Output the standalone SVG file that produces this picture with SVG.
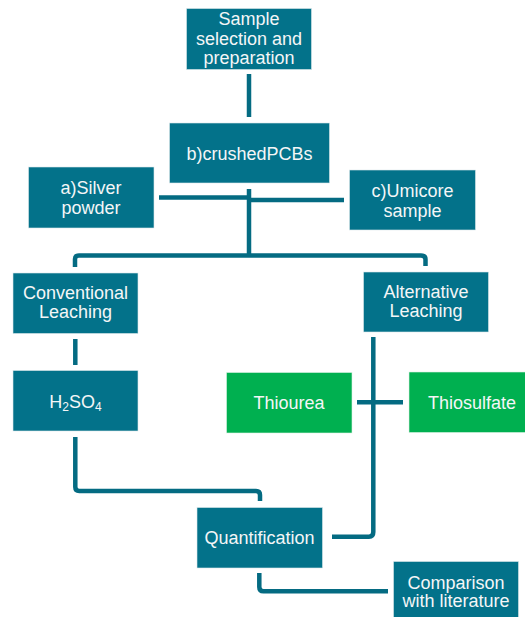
<svg xmlns="http://www.w3.org/2000/svg" width="525" height="617" viewBox="0 0 525 617">
<style>
.box{fill:#03728A;stroke:#DDE8EC;stroke-width:0.6}
.green{fill:#00B050;stroke:#DDF2E4;stroke-width:0.6}
.t{font-family:"Liberation Sans",Arial,sans-serif;font-size:18px;fill:#F4F6F7;text-anchor:middle}
.c{fill:none;stroke:#046B82;stroke-width:4.5;stroke-linejoin:round}
</style>
<rect width="525" height="617" fill="#FFFFFF"/>
<g id="connectors">
<path class="c" d="M249 74V117"/>
<path class="c" d="M159 197.5H249"/>
<path class="c" d="M249 200H344"/>
<path class="c" d="M249 189V255.5"/>
<path class="c" d="M75 267V259Q75 255.5 79 255.5H421Q425.5 255.5 425.5 259.5V266"/>
<path class="c" d="M75.3 339V365"/>
<path class="c" d="M75.3 437V487Q75.3 491 79.3 491H256Q260 491 260 495V501"/>
<path class="c" d="M373.3 337V532Q373.3 536.7 369 536.7H332"/>
<path class="c" d="M357 402.3H403"/>
<path class="c" d="M259.3 573V587Q259.3 591.3 263.5 591.3H388"/>
</g>
<g id="n-sample">
<rect class="box" x="186.5" y="8.5" width="125" height="61"/>
<text class="t" x="249" y="25">Sample</text>
<text class="t" x="249" y="45">selection and</text>
<text class="t" x="249" y="64">preparation</text>
</g>
<g id="n-crushed">
<rect class="box" x="169.5" y="123" width="160" height="60"/>
<text class="t" x="249.5" y="159.5">b)crushedPCBs</text>
</g>
<g id="n-silver">
<rect class="box" x="28.5" y="167" width="125.5" height="61"/>
<text class="t" x="91" y="194">a)Silver</text>
<text class="t" x="91" y="213.5">powder</text>
</g>
<g id="n-umicore">
<rect class="box" x="349.5" y="170" width="126" height="60"/>
<text class="t" x="412.5" y="197">c)Umicore</text>
<text class="t" x="412.5" y="216.5">sample</text>
</g>
<g id="n-conventional">
<rect class="box" x="13" y="273" width="125" height="60.5"/>
<text class="t" x="75.5" y="299">Conventional</text>
<text class="t" x="75.5" y="318">Leaching</text>
</g>
<g id="n-alternative">
<rect class="box" x="363.5" y="272" width="125" height="60"/>
<text class="t" x="426" y="298">Alternative</text>
<text class="t" x="426" y="317">Leaching</text>
</g>
<g id="n-h2so4">
<rect class="box" x="13" y="370.5" width="125" height="60.5"/>
<text class="t" x="75.5" y="408">H<tspan font-size="12" dy="3">2</tspan><tspan dy="-3">SO</tspan><tspan font-size="12" dy="3">4</tspan></text>
</g>
<g id="n-thiourea">
<rect class="green" x="226.5" y="372.5" width="125.5" height="60.5"/>
<text class="t" x="289" y="408.5">Thiourea</text>
</g>
<g id="n-thiosulfate">
<rect class="green" x="409" y="372" width="126" height="60.5"/>
<text class="t" x="472" y="408.5">Thiosulfate</text>
</g>
<g id="n-quantification">
<rect class="box" x="197" y="507.5" width="125.5" height="60.5"/>
<text class="t" x="259.5" y="543.5">Quantification</text>
</g>
<g id="n-comparison">
<rect class="box" x="393.5" y="561.5" width="125" height="60"/>
<text class="t" x="456" y="588.5">Comparison</text>
<text class="t" x="456" y="607">with literature</text>
</g>
</svg>
